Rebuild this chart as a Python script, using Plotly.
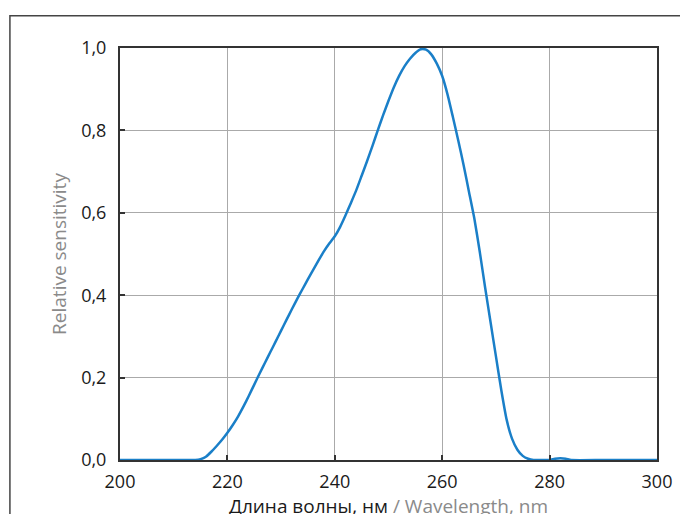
import plotly.graph_objects as go

wavelength = [200, 205, 210, 214, 215, 216, 217, 218, 219, 220, 221, 222, 223, 224, 225,
              226, 227, 228, 229, 230, 231, 232, 233, 234, 235, 236, 237, 238, 239, 240,
              241, 242, 243, 244, 245, 246, 247, 248, 249, 250, 251, 252, 253, 254, 255,
              256, 257, 258, 259, 260, 261, 262, 263, 264, 265, 266, 267, 268, 269, 270,
              271, 272, 273, 274, 275, 276, 277, 278, 280, 281, 282, 283, 284, 290, 300]
sensitivity = [0, 0, 0, 0, 0.002, 0.008, 0.02, 0.034, 0.049, 0.066, 0.085, 0.106, 0.13, 0.156, 0.183,
               0.21, 0.236, 0.262, 0.288, 0.314, 0.34, 0.366, 0.391, 0.415, 0.439, 0.462, 0.485, 0.507, 0.526, 0.543,
               0.566, 0.594, 0.624, 0.655, 0.69, 0.725, 0.762, 0.80, 0.837, 0.872, 0.905, 0.933, 0.956, 0.974, 0.988,
               0.997, 0.996, 0.984, 0.962, 0.932, 0.887, 0.832, 0.775, 0.715, 0.65, 0.585, 0.505, 0.418, 0.335, 0.252,
               0.17, 0.098, 0.052, 0.025, 0.01, 0.003, 0, 0, 0, 0.003, 0.004, 0.003, 0, 0, 0]

x_ticks = [200, 220, 240, 260, 280, 300]
y_ticks = [0.0, 0.2, 0.4, 0.6, 0.8, 1.0]

FONT = "Open Sans"

fig = go.Figure()
fig.add_trace(go.Scatter(
    x=wavelength, y=sensitivity, mode="lines",
    line=dict(color="#1a7fc8", width=2.5, shape="spline", smoothing=0.5),
    hoverinfo="skip", showlegend=False,
))

axis_common = dict(
    showline=True, linecolor="#333333", linewidth=2, mirror=True,
    showgrid=True, gridcolor="#aaaaaa", gridwidth=1,
    ticks="inside", ticklen=5, tickcolor="#333333", tickwidth=1.5,
    zeroline=False,
    tickfont=dict(family=FONT, size=18, color="#1a1a1a"),
)

fig.update_xaxes(
    range=[200, 300], tickvals=x_ticks, ticktext=[str(v) for v in x_ticks],
    ticklabelstandoff=4,
    title=dict(text="Длина волны, нм <span style='color:#8a8a8a'>/ Wavelength, nm</span>",
               font=dict(family=FONT, size=19, color="#1a1a1a"), standoff=2),
    **axis_common,
)
fig.update_yaxes(
    range=[0, 1], tickvals=y_ticks, tickformat=".1f",
    title=dict(text="Relative sensitivity", font=dict(family=FONT, size=19, color="#8a8a8a"), standoff=10),
    ticklabelstandoff=8,
    **axis_common,
)

fig.add_shape(type="rect", xref="paper", yref="paper",
              x0=-0.205, x1=1.3, y0=-0.3, y1=1.078,
              line=dict(color="#444444", width=1.5), fillcolor="rgba(0,0,0,0)", layer="below")

fig.update_layout(
    width=688, height=514,
    margin=dict(l=112, r=39, t=40, b=62),
    paper_bgcolor="white", plot_bgcolor="white",
    separators=", ",
    font=dict(family=FONT),
)

fig.write_html("out.html")
